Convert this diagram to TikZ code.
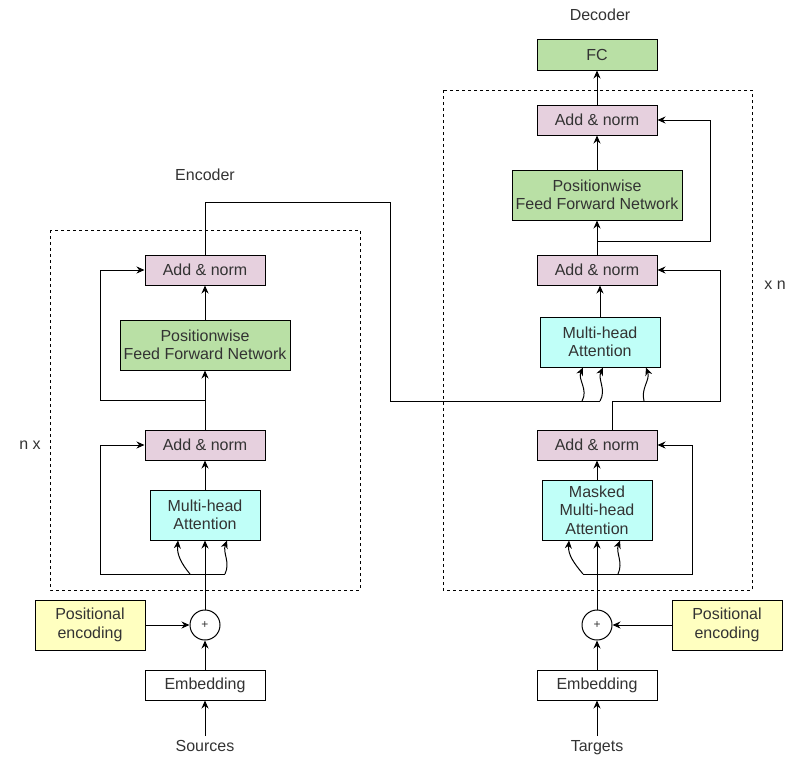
\documentclass[tikz,border=0pt]{standalone}
\usepackage{fontspec}
\setmainfont{Liberation Sans}
\usetikzlibrary{positioning,arrows.meta,calc}
\definecolor{normpink}{HTML}{E6D0DE}
\definecolor{ffngreen}{HTML}{B9E0A5}
\definecolor{attcyan}{HTML}{C0FFF8}
\definecolor{posyellow}{HTML}{FFFFC0}
\definecolor{inkgray}{HTML}{333333}

\begin{document}
\begin{tikzpicture}[x=1pt,y=-1pt,line width=1pt,
  txt/.style={text=inkgray, font=\fontsize{16}{18.5}\selectfont, align=center},
  block/.style={txt, draw=black, inner sep=0pt},
  normbox/.style={block, fill=normpink, minimum width=120pt, minimum height=30pt},
  ffnbox/.style={block, fill=ffngreen, minimum width=170pt, minimum height=50pt},
  attbox/.style={block, fill=attcyan, minimum width=110pt, minimum height=50pt},
  posbox/.style={block, fill=posyellow, minimum width=110pt, minimum height=50pt},
  embbox/.style={block, fill=white, minimum width=120pt, minimum height=30pt},
  plusnode/.style={draw=black, circle, minimum size=30pt, inner sep=0pt, text=inkgray, font=\fontsize{12}{14}\selectfont},
  layerbox/.style={draw=black, dash pattern=on 3pt off 3pt},
  arr/.style={-{Stealth[length=8pt,width=7pt]}}]
\useasboundingbox (0,0) rectangle (805,760);

% encoder
\draw[layerbox] (50,230) rectangle (360,590);
\node[txt] (enclabel) at (205,175) {Encoder};
\node[txt] (nlabel) at (30,445) {n x};
\node[normbox] (encnorm2) at (205,270) {Add \& norm};
\node[ffnbox] (encffn) at (205,345) {Positionwise\\Feed Forward Network};
\node[normbox] (encnorm1) at (205,445) {Add \& norm};
\node[attbox] (encatt) at (205,515) {Multi-head\\Attention};
\node[plusnode] (encplus) at (205,625) {+};
\node[posbox] (encpos) at (90,625) {Positional\\encoding};
\node[embbox] (encemb) at (205,685) {Embedding};
\node[txt, anchor=base] (src) at (205,751) {Sources};

\draw[arr] (src) -- (encemb);
\draw[arr] (encemb) -- (encplus);
\draw[arr] (encpos) -- (encplus);
\draw[arr] (encplus) -- (encatt);
\draw[arr] (encatt) -- (encnorm1);
\draw[arr] (encnorm1) -- (encffn);
\draw[arr] (encffn) -- (encnorm2);

% encoder residuals
\coordinate (encq) at (190,574);
\coordinate (encv) at (225,574);
\draw[arr] (encv) -- (100,574) |- (encnorm1.west);
\draw[arr] (encq) to[out=130,in=-95] ($(encatt.south)+(-27,0)$);
\draw[arr] (encv) to[out=65,in=-110] ($(encatt.south)+(22,0)$);
\coordinate (encsplit) at (205,400);
\draw[arr] (encsplit) -- (100,400) |- (encnorm2.west);

% decoder
\draw[layerbox] (443,90) rectangle (752,590);
\node[txt] (declabel) at (600,15) {Decoder};
\node[txt] (xlabel) at (775,285) {x n};
\node[ffnbox, minimum width=120pt, minimum height=30pt] (fc) at (597,55) {FC};
\node[normbox] (decnorm3) at (597,120) {Add \& norm};
\node[ffnbox] (decffn) at (597,195) {Positionwise\\Feed Forward Network};
\node[normbox] (decnorm2) at (597,270) {Add \& norm};
\node[attbox, minimum width=120pt] (decatt) at (600,342) {Multi-head\\Attention};
\node[normbox] (decnorm1) at (597,445) {Add \& norm};
\node[attbox, minimum height=60pt] (decmask) at (597,510) {Masked\\Multi-head\\Attention};
\node[plusnode] (decplus) at (597,625) {+};
\node[posbox] (decpos) at (727,625) {Positional\\encoding};
\node[embbox] (decemb) at (597,685) {Embedding};
\node[txt, anchor=base] (tgt) at (597,751) {Targets};

\draw[arr] (tgt) -- (decemb);
\draw[arr] (decemb) -- (decplus);
\draw[arr] (decpos) -- (decplus);
\draw[arr] (decplus) -- (decmask);
\draw[arr] (decmask) -- (decnorm1);
\draw[arr] (decatt.north) -- (decatt.north |- decnorm2.south);
\draw[arr] (decnorm2) -- (decffn);
\draw[arr] (decffn) -- (decnorm3);
\draw[arr] (decnorm3) -- (fc);

% decoder residuals
\coordinate (decq0) at (583,574);
\coordinate (decv0) at (618,574);
\draw[arr] (decq0) -- (692,574) |- (decnorm1.east);
\draw[arr] (decq0) to[out=130,in=-95] ($(decmask.south)+(-28,0)$);
\draw[arr] (decv0) to[out=65,in=-110] ($(decmask.south)+(23,0)$);
\coordinate (decq1) at (644,401);
\draw[arr] ($(decnorm1.north)+(15,0)$) |- (720,401) |- (decnorm2.east);
\draw[arr] (decq1) to[out=105,in=-70] ($(decatt.south)+(46,0)$);
\coordinate (decsplit) at (597,241);
\draw[arr] (decsplit) -- (710,241) |- (decnorm3.east);

% encoder output into decoder
\coordinate (kv1) at (582,401);
\coordinate (kv2) at (600,401);
\draw (encnorm2.north) |- (390,202) |- (kv2);
\draw[arr] (kv1) to[out=60,in=-115] ($(decatt.south)+(-17,0)$);
\draw[arr] (kv2) to[out=60,in=-115] ($(decatt.south)+(3,0)$);
\end{tikzpicture}
\end{document}
